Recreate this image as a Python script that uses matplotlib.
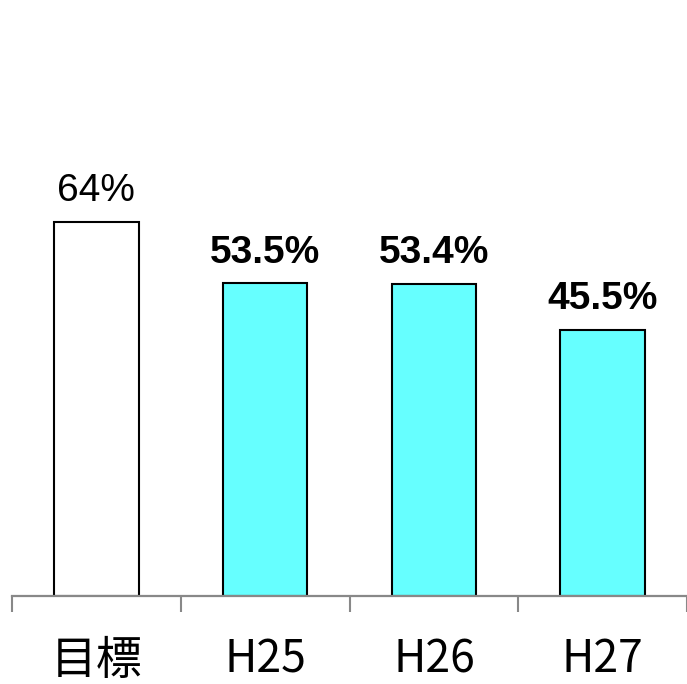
import matplotlib
matplotlib.use('Agg')
import matplotlib.pyplot as plt

categories = ['目標', 'H25', 'H26', 'H27']
values = [64, 53.5, 53.4, 45.5]
value_labels = ['64%', '53.5%', '53.4%', '45.5%']
bar_colors = ['#ffffff', '#66ffff', '#66ffff', '#66ffff']
label_bold = [False, True, True, True]

plt.rcParams['font.family'] = ['Noto Sans CJK JP', 'DejaVu Sans']

fig = plt.figure(figsize=(6.87, 6.84), dpi=100)
ax = fig.add_axes([12 / 687, 88 / 684, 675 / 687, 596 / 684])

x = range(len(categories))
ax.bar(x, values, width=0.5, color=bar_colors, edgecolor='black', linewidth=1.5, zorder=2)

for i, v in enumerate(values):
    ax.annotate(value_labels[i], (i, v), xytext=(0, 15), textcoords='offset points',
                ha='center', va='baseline', fontsize=28, family='Liberation Sans',
                fontweight='bold' if label_bold[i] else 'normal')

ax.set_xlim(-0.5, -0.5 + 675 / 169.5)
ax.set_ylim(0, 102)

for s in ['top', 'right', 'left']:
    ax.spines[s].set_visible(False)
ax.spines['bottom'].set_color('#888888')
ax.spines['bottom'].set_linewidth(1.6)
ax.set_yticks([])

ax.set_xticks(list(x))
ax.set_xticklabels(categories, fontsize=32)
ax.get_xticklabels()[0].set_fontsize(33)
ax.tick_params(axis='x', which='major', length=0, pad=29)
ax.set_xticks([i - 0.5 for i in range(len(categories) + 1)], minor=True)
ax.tick_params(axis='x', which='minor', length=11.5, width=1.5, color='#888888')

fig.savefig('out.png', dpi=100)
